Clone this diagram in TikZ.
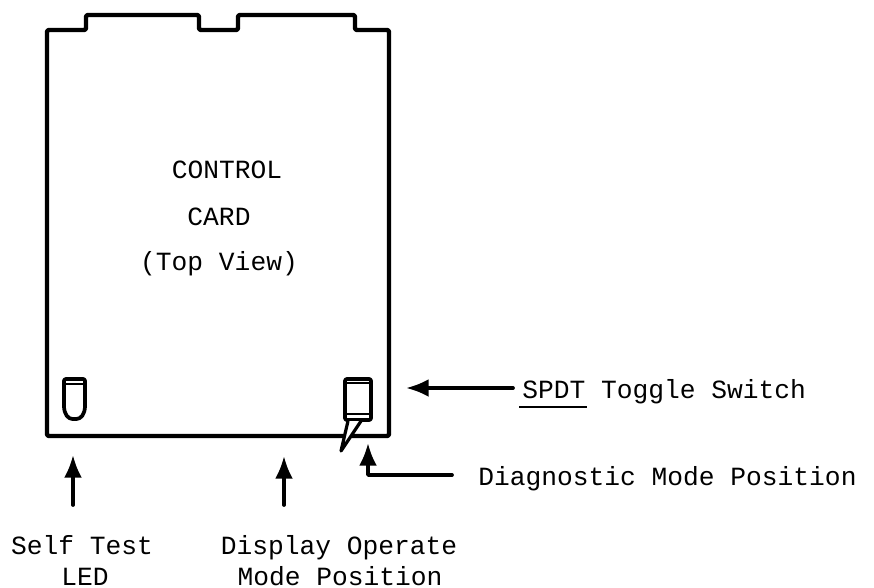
\documentclass[tikz,border=0pt]{standalone}
\usepackage{fontspec}
\setmainfont{Liberation Mono}
\usetikzlibrary{arrows.meta}
\tikzset{
 px/.style={x=0.75pt,y=-0.75pt},
 card/.style={line width=3.3pt,line join=round,line cap=round,rounded corners=1.5pt},
 lead/.style={line width=2.8pt,line cap=round,line join=round},
 tipbig/.style={-{Latex[length=17pt,width=13.5pt]}},
 lbl/.style={font=\fontsize{19.7}{22}\selectfont,inner sep=0pt,anchor=base},
 captext/.style={font=\fontsize{19.7}{22}\selectfont,inner sep=0pt,anchor=base west},
 part/.style={line width=2.8pt,line join=round}
}
\begin{document}
\begin{tikzpicture}[px]
\useasboundingbox (0,0) rectangle (874,588);
\draw[card] (47,436) -- (47,30) -- (86,30) -- (86,15) -- (199,15) -- (199,30) -- (238,30) -- (238,15) -- (355,15) -- (355,30) -- (389,30) -- (389,436) -- cycle;
\node[lbl] (t1) at (227,179) {CONTROL};
\node[lbl] (t2) at (219,225) {CARD};
\node[lbl] (t3) at (219,270) {(Top View)};
% LED
\draw[part,rounded corners=1.5pt] (64,379) -- (64,404) .. controls (64,414) and (68,419) .. (74.5,419) .. controls (81,419) and (85,414) .. (85,404) -- (85,379) -- cycle;
\draw[line width=1pt] (66,384) -- (83,384);
% switch
\draw[part,fill=white,rounded corners=1.5pt] (345,379) rectangle (371,420);
\draw[line width=1pt] (346,383) -- (370,383);
\draw[line width=2pt] (346,414) -- (370,414);
\draw[fill=white,line width=2.4pt,line join=round] (348,421) -- (341,451) -- (361,421);
\coordinate (s1) at (513,388);\coordinate (s2) at (406,388);
\coordinate (d1) at (452,475);\coordinate (d2) at (368,475);\coordinate (d3) at (368,443);
\coordinate (l1) at (73,505);\coordinate (l2) at (73,455);
\coordinate (m1) at (284,505);\coordinate (m2) at (284,456);
\draw[lead,tipbig] (s1) -- (s2);
\draw[lead,tipbig] (d1) -- (d2) -- (d3);
\draw[lead,tipbig] (l1) -- (l2);
\draw[lead,tipbig] (m1) -- (m2);
\node[captext] (n1) at (522,398) {SPDT Toggle Switch};
\draw[line width=1.2pt] (519,407) -- (587,407);
\node[captext] (n2) at (478,485) {Diagnostic Mode Position};
\node[lbl] (n3) at (82,554) {Self Test};
\node[lbl] (n4) at (85,585) {LED};
\node[lbl] (n5) at (339,554) {Display Operate};
\node[lbl] (n6) at (340,585) {Mode Position};
\end{tikzpicture}
\end{document}
